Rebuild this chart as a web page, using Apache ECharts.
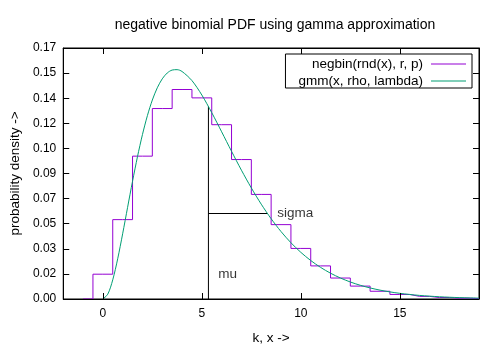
<!DOCTYPE html>
<html><head><meta charset="utf-8">
<script src="https://cdn.jsdelivr.net/npm/echarts@6/dist/echarts.min.js"></script>
<style>html,body{margin:0;padding:0;background:#fff}#c{width:500px;height:350px}</style>
</head><body><div id="c"></div>
<script>
// negative binomial probabilities P(k)
const kValues = [-1, 0, 1, 2, 3, 4, 5, 6, 7, 8, 9, 10, 11, 12, 13, 14, 15, 16, 17, 18, 19];
const negbinValues = [0, 0.01680, 0.05375, 0.09675, 0.12900, 0.14189, 0.13622, 0.11806, 0.09445, 0.07083,
  0.05037, 0.03425, 0.02242, 0.01420, 0.00874, 0.00524, 0.00308, 0.00177, 0.00100, 0.00056, 0.00030];

// gamma approximation curve samples
const gammaX = [0, 0.25, 0.5, 0.75, 1, 1.25, 1.5, 1.75, 2, 2.25, 2.5, 2.75, 3, 3.25, 3.5, 3.75, 4, 4.5, 5, 5.5,
  6, 6.5, 7, 7.5, 8, 8.5, 9, 9.5, 10, 10.5, 11, 11.5, 12, 12.5, 13, 13.5, 14, 14.5, 15, 15.5,
  16, 16.5, 17, 17.5, 18, 18.5, 19];
const gammaY = [0, 0.00328, 0.01297, 0.02724, 0.04416, 0.06209, 0.07982, 0.09643, 0.11134, 0.12418, 0.13476, 0.14305,
  0.14910, 0.15305, 0.15506, 0.15533, 0.15409, 0.14792, 0.13816, 0.12623, 0.11325, 0.10005, 0.08724, 0.07523,
  0.06423, 0.05437, 0.04568, 0.03811, 0.03161, 0.02607, 0.02139, 0.01748, 0.01422, 0.01152, 0.00931, 0.00749,
  0.00601, 0.00481, 0.00384, 0.00306, 0.00243, 0.00193, 0.00152, 0.00120, 0.00095, 0.00075, 0.00059];

// annotation values
const muValue = 5.333;
const sigmaValue = 2.981;
const gmmAtMu = 0.1304;
const gmmAtMuPlusSigma = 0.0579;
const muLabelAt = [5.833, 0.017];
const sigmaLabelAt = [8.815, 0.0579];

// axes
const xRange = [-2, 19];
const yMax = 0.17;
const yStep = 0.017;
const yTickLabels = ['0.00', '0.02', '0.03', '0.05', '0.07', '0.09', '0.10', '0.12', '0.14', '0.15', '0.17'];

const seriesNames = ['negbin(rnd(x), r, p)', 'gmm(x, rho, lambda)'];
const titleText = 'negative binomial PDF using gamma approximation';
const xName = 'k, x ->';
const yName = 'probability density ->';

const FONT = '"Liberation Sans", Arial, sans-serif';
const TXT = 13.5;
const chart = echarts.init(document.getElementById('c'), null, {renderer: 'canvas'});

const xBase = {
  type: 'value', min: xRange[0], max: xRange[1], minInterval: 5, maxInterval: 5,
  axisLine: {show: true, onZero: false, lineStyle: {color: '#000', width: 1}},
  axisTick: {show: true, inside: true, length: 6, lineStyle: {color: '#000'}},
  splitLine: {show: false}, z: 10
};
const yBase = {
  type: 'value', min: 0, max: yMax, interval: yStep,
  axisLine: {show: true, onZero: false, lineStyle: {color: '#000', width: 1}},
  axisTick: {show: true, inside: true, length: 6, lineStyle: {color: '#000'}},
  splitLine: {show: false}, z: 10
};

chart.setOption({
  animation: false,
  backgroundColor: '#fff',
  textStyle: {fontFamily: FONT},
  title: {
    text: titleText, left: 270, top: 13, textAlign: 'center',
    textStyle: {fontSize: 14, fontWeight: 'normal', color: '#000', fontFamily: FONT}
  },
  grid: {left: 61, right: 21, top: 48, bottom: 51, show: true, borderColor: '#000', borderWidth: 1, backgroundColor: 'transparent'},
  legend: {
    data: seriesNames, orient: 'vertical', align: 'right', right: 28, top: 54,
    icon: 'path://M0,0 H70 V2 H0 Z',
    backgroundColor: '#fff', borderColor: '#000', borderWidth: 1, borderRadius: 0,
    padding: [3, 6, 0, 13], itemWidth: 35, itemHeight: 12, itemGap: 3,
    textStyle: {fontSize: TXT, lineHeight: 14, color: '#000', fontFamily: FONT, padding: [0, 3, 0, 0]}
  },
  xAxis: [
    Object.assign({}, xBase, {
      position: 'bottom',
      axisLabel: {show: true, color: '#000', fontSize: 12, margin: 9, fontFamily: FONT,
        showMinLabel: false, showMaxLabel: false, formatter: v => String(v)},
      name: xName, nameLocation: 'middle', nameGap: 32,
      nameTextStyle: {fontSize: TXT, color: '#000', fontFamily: FONT}
    }),
    Object.assign({}, xBase, {position: 'top', axisLabel: {show: false}})
  ],
  yAxis: [
    Object.assign({}, yBase, {
      position: 'left',
      axisLabel: {show: true, color: '#000', fontSize: 12, margin: 7, fontFamily: FONT,
        formatter: v => yTickLabels[Math.round(v / yStep)]},
      name: yName, nameLocation: 'middle', nameGap: 41,
      nameTextStyle: {fontSize: TXT, color: '#000', fontFamily: FONT}
    }),
    Object.assign({}, yBase, {position: 'right', axisLabel: {show: false}})
  ],
  series: [
    {
      name: seriesNames[0], type: 'line', step: 'middle', symbol: 'none',
      data: kValues.map((k, i) => [k, negbinValues[i]]),
      color: '#9400D3', lineStyle: {color: '#9400D3', width: 1}, z: 3
    },
    {
      name: seriesNames[1], type: 'line', symbol: 'none', smooth: 0.3,
      data: gammaX.map((x, i) => [x, gammaY[i]]),
      color: '#009E73', lineStyle: {color: '#009E73', width: 1}, z: 4
    },
    {
      name: 'mu line', type: 'line', symbol: 'none', silent: true,
      data: [[muValue, 0], [muValue, gmmAtMu]],
      lineStyle: {color: '#000', width: 1}, z: 2
    },
    {
      name: 'sigma line', type: 'line', symbol: 'none', silent: true,
      data: [[muValue, gmmAtMuPlusSigma], [muValue + sigmaValue, gmmAtMuPlusSigma]],
      lineStyle: {color: '#000', width: 1}, z: 2
    },
    {
      name: 'labels', type: 'scatter', symbolSize: 0, silent: true,
      data: [
        {value: muLabelAt, name: 'mu'},
        {value: sigmaLabelAt, name: 'sigma'}
      ],
      label: {show: true, formatter: p => p.name, position: [0, 0], align: 'left', verticalAlign: 'middle',
        color: '#000', fontSize: TXT, fontFamily: FONT}
    }
  ]
});
</script>
</body></html>
